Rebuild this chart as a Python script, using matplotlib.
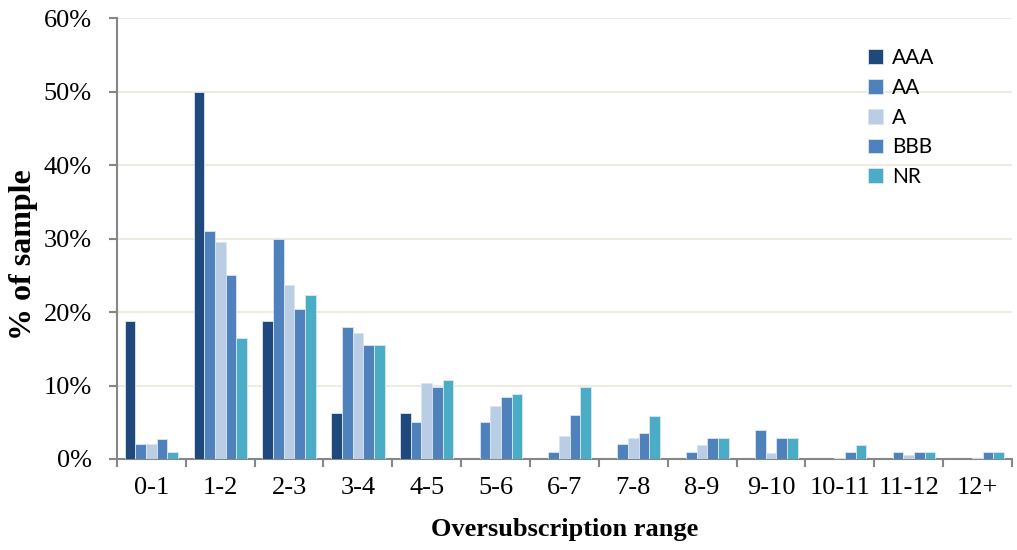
import matplotlib
matplotlib.use("Agg")
import matplotlib.pyplot as plt
import numpy as np
from matplotlib.ticker import FuncFormatter, FixedLocator

categories = ["0-1", "1-2", "2-3", "3-4", "4-5", "5-6", "6-7", "7-8", "8-9", "9-10", "10-11", "11-12", "12+"]
series_names = ["AAA", "AA", "A", "BBB", "NR"]
aaa = [18.75, 50.0, 18.75, 6.25, 6.25, 0, 0, 0, 0, 0, 0, 0, 0]
aa = [2.0, 31.0, 30.0, 18.0, 5.0, 5.0, 1.0, 2.0, 1.0, 4.0, 0, 1.0, 0]
a = [2.0, 29.5, 23.7, 17.2, 10.3, 7.2, 3.1, 2.9, 1.9, 0.8, 0.1, 0.6, 0.1]
bbb = [2.7, 25.0, 20.4, 15.5, 9.8, 8.5, 6.0, 3.6, 2.9, 2.9, 0.9, 0.9, 0.9]
nr = [1.0, 16.5, 22.3, 15.5, 10.7, 8.8, 9.8, 5.8, 2.9, 2.9, 1.9, 1.0, 1.0]
colors = ["#1F497D", "#4F81BD", "#B9CDE5", "#4F81BD", "#4BACC6"]

fig = plt.figure(figsize=(10.17, 5.5), dpi=100)
ax = fig.add_axes([0.115, 0.1655, 0.88, 0.8015])

x = np.arange(len(categories))
w = 0.155
data = [aaa, aa, a, bbb, nr]
for i, (vals, name, c) in enumerate(zip(data, series_names, colors)):
    ax.bar(x + (i - 2) * w, vals, width=w, color=c, edgecolor="#DCE6F2",
           linewidth=0.6, label=name, zorder=3)

ax.set_xlim(-0.5, len(categories) - 0.5)
ax.set_ylim(0, 60)
ax.set_yticks(np.arange(0, 61, 10))
ax.yaxis.set_major_formatter(FuncFormatter(lambda v, p: f"{int(v)}%"))
ax.grid(axis="y", color="#EEECE1", linewidth=1.5, zorder=0)
ax.set_axisbelow(True)

ax.set_xticks(x)
ax.set_xticklabels(categories)
ax.xaxis.set_minor_locator(FixedLocator(np.arange(-0.5, len(categories), 1.0)))
ax.tick_params(axis="x", which="major", length=0, pad=13)
ax.tick_params(axis="x", which="minor", length=6, width=1.5, color="#868686")
ax.tick_params(axis="y", length=6, width=1.5, color="#868686", pad=12)

for lbl in ax.get_xticklabels() + ax.get_yticklabels():
    lbl.set_fontfamily("Liberation Serif")
    lbl.set_fontsize(19)
    lbl.set_color("#000000")

for s in ["top", "right"]:
    ax.spines[s].set_visible(False)
for s in ["left", "bottom"]:
    ax.spines[s].set_color("#868686")
    ax.spines[s].set_linewidth(1.5)

ax.set_ylabel("% of sample", fontfamily="Liberation Serif", fontsize=23,
              fontweight="bold")
ax.yaxis.set_label_coords(-0.0885, 0.463)
ax.set_xlabel("Oversubscription range", fontfamily="Liberation Serif", fontsize=19,
              fontweight="bold", labelpad=14)

leg = ax.legend(loc="upper left", bbox_to_anchor=(0.818, 0.975), frameon=False,
                prop={"family": "Lato", "size": 15}, handlelength=0.72,
                handleheight=0.72, handletextpad=0.45, labelspacing=0.47)

fig.savefig("out.png", dpi=100)
